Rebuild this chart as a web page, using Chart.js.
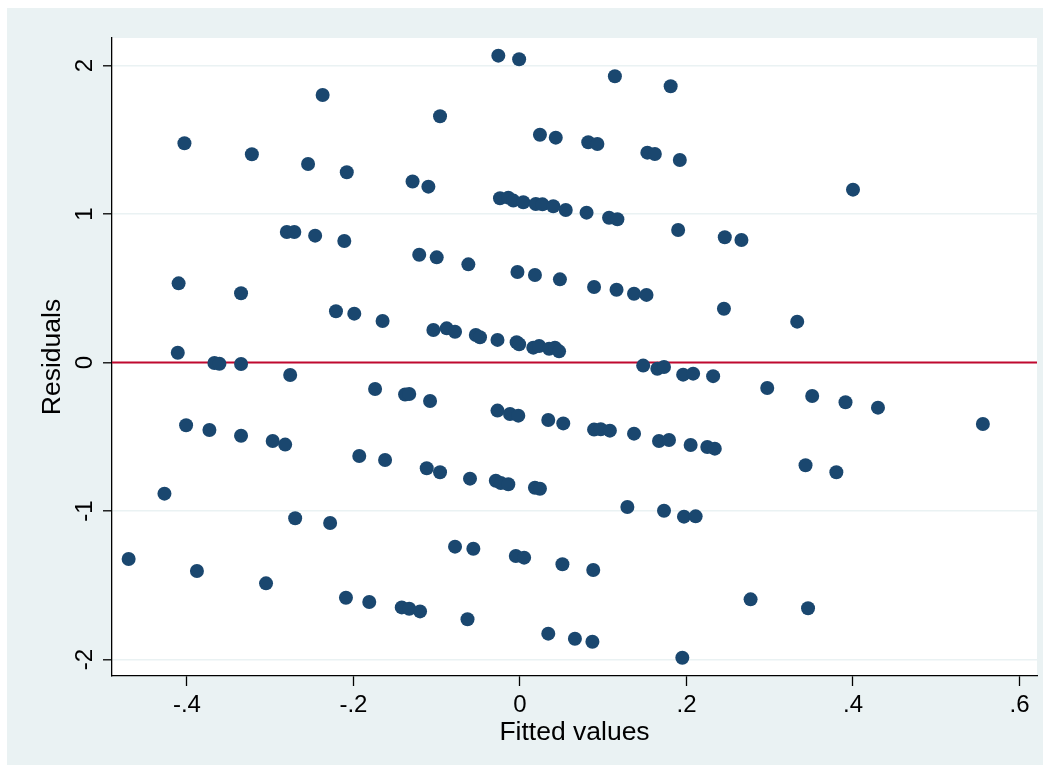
<!DOCTYPE html>
<html>
<head>
<meta charset="utf-8">
<title>Residuals vs fitted values</title>
<script src="https://cdn.jsdelivr.net/npm/chart.js@4.4.1/dist/chart.umd.min.js"></script>
<style>
  html, body { margin: 0; padding: 0; background: #fff; }
  canvas { display: block; }
</style>
</head>
<body>
<canvas id="myChart" width="1049" height="772"></canvas>
<script>
// fitted values (x) and residuals (y)
var fittedValues = [
    -0.237, -0.403, -0.322, -0.2545, -0.208, -0.129, -0.280, -0.271, -0.246, -0.211,
    -0.026, -0.001, 0.114, 0.181, -0.096, 0.024, 0.043, 0.082, 0.093, 0.153,
    0.162, 0.192, -0.110, -0.024, -0.014, -0.008, 0.004, 0.019, 0.027, 0.040,
    0.055, 0.080, 0.107, 0.117, 0.190, 0.400, 0.246, 0.266, -0.121, -0.100,
    -0.062, -0.003, 0.018, 0.048, 0.089, 0.116, 0.137, 0.152, 0.245, 0.333,
    -0.410, -0.335, -0.221, -0.199, -0.165, -0.104, -0.088, -0.078, -0.053, -0.048,
    -0.027, -0.004, -0.001, 0.016, 0.023, 0.035, 0.042, 0.047, -0.411, -0.367,
    -0.361, -0.335, -0.276, -0.174, -0.138, -0.133, -0.108, 0.148, 0.165, 0.173,
    0.196, 0.208, 0.232, 0.297, 0.351, 0.391, 0.430, 0.556, -0.401, -0.373,
    -0.335, -0.297, -0.282, -0.027, -0.012, -0.002, 0.034, 0.052, 0.089, 0.097,
    0.108, 0.137, 0.167, 0.179, 0.205, 0.225, 0.234, -0.193, -0.162, -0.112,
    -0.096, -0.060, -0.029, -0.023, -0.014, 0.018, 0.024, 0.343, 0.380, -0.427,
    -0.270, -0.228, 0.129, 0.173, 0.197, 0.211, -0.078, -0.056, -0.005, 0.005,
    0.051, 0.088, -0.470, -0.388, -0.305, -0.209, -0.181, -0.142, -0.133, -0.120,
    -0.063, 0.034, 0.066, 0.087, 0.195, 0.277, 0.346
];
var residuals = [
    1.801, 1.476, 1.402, 1.337, 1.281, 1.219, 0.879, 0.879, 0.854, 0.818,
    2.066, 2.042, 1.927, 1.860, 1.658, 1.534, 1.514, 1.483, 1.471, 1.413,
    1.404, 1.364, 1.184, 1.106, 1.110, 1.090, 1.079, 1.067, 1.065, 1.052,
    1.027, 1.009, 0.975, 0.965, 0.892, 1.164, 0.843, 0.825, 0.726, 0.708,
    0.661, 0.609, 0.589, 0.560, 0.508, 0.490, 0.463, 0.455, 0.362, 0.275,
    0.533, 0.466, 0.345, 0.329, 0.279, 0.219, 0.230, 0.207, 0.185, 0.170,
    0.152, 0.136, 0.123, 0.100, 0.111, 0.093, 0.100, 0.075, 0.066, -0.003,
    -0.008, -0.010, -0.084, -0.178, -0.216, -0.212, -0.259, -0.021, -0.042, -0.030,
    -0.082, -0.075, -0.092, -0.172, -0.226, -0.268, -0.304, -0.414, -0.423, -0.455,
    -0.493, -0.529, -0.553, -0.324, -0.347, -0.358, -0.387, -0.410, -0.452, -0.450,
    -0.459, -0.479, -0.529, -0.522, -0.556, -0.569, -0.580, -0.630, -0.657, -0.712,
    -0.739, -0.782, -0.796, -0.811, -0.820, -0.843, -0.850, -0.692, -0.739, -0.883,
    -1.049, -1.081, -0.973, -0.998, -1.038, -1.036, -1.240, -1.254, -1.303, -1.314,
    -1.359, -1.397, -1.323, -1.404, -1.487, -1.584, -1.613, -1.649, -1.658, -1.676,
    -1.729, -1.826, -1.860, -1.880, -1.988, -1.595, -1.655
];

var xTicks = [-0.4, -0.2, 0, 0.2, 0.4, 0.6];
var xTickLabels = ['-.4', '-.2', '0', '.2', '.4', '.6'];
var yTicks = [-2, -1, 0, 1, 2];
var yTickLabels = ['-2', '-1', '0', '1', '2'];
var xRange = [-0.49, 0.621];
var yRange = [-2.111, 2.185];
var refLineY = 0;

var FONT = '"Liberation Sans", Arial, Helvetica, sans-serif';
Chart.defaults.font.family = FONT;
Chart.defaults.color = '#000';

var points = fittedValues.map(function (x, i) {
    return { x: x, y: residuals[i] };
});

// grey frame + white plot region
var background = {
    id: 'background',
    beforeDraw: function (chart) {
        var c = chart.ctx, a = chart.chartArea;
        c.save();
        c.fillStyle = '#ffffff';
        c.fillRect(0, 0, chart.width, chart.height);
        c.fillStyle = '#eaf2f3';
        c.fillRect(7, 8, 1036, 757);
        c.fillStyle = '#ffffff';
        c.fillRect(a.left, a.top, a.right - a.left, a.bottom - a.top);
        c.restore();
    }
};

// Stata style vertical labels on the y axis
var yLabels = {
    id: 'yLabels',
    afterDraw: function (chart) {
        var c = chart.ctx, s = chart.scales.y;
        c.save();
        c.font = '24px ' + FONT;
        c.fillStyle = '#000';
        c.textAlign = 'center';
        c.textBaseline = 'alphabetic';
        yTicks.forEach(function (v, i) {
            c.save();
            c.translate(92, s.getPixelForValue(v));
            c.rotate(-Math.PI / 2);
            c.fillText(yTickLabels[i], 0, 0);
            c.restore();
        });
        c.restore();
    }
};

var ctx = document.getElementById('myChart');
var myChart = new Chart(ctx, {
    type: 'scatter',
    data: {
        datasets: [{
            data: points,
            backgroundColor: '#1a476f',
            borderWidth: 0,
            pointRadius: 7,
            pointHoverRadius: 7,
            order: 0
        }, {
            type: 'line',
            data: [{ x: xRange[0], y: refLineY }, { x: xRange[1], y: refLineY }],
            borderColor: '#c0082f',
            borderWidth: 2.2,
            pointRadius: 0,
            fill: false,
            order: 1
        }]
    },
    options: {
        responsive: false,
        animation: false,
        layout: { padding: { left: 0, right: 12, top: 38, bottom: 0 } },
        plugins: {
            legend: { display: false },
            tooltip: { enabled: false }
        },
        scales: {
            x: {
                type: 'linear',
                min: xRange[0],
                max: xRange[1],
                afterBuildTicks: function (scale) {
                    scale.ticks = xTicks.map(function (v) { return { value: v }; });
                },
                afterFit: function (scale) { scale.height = 96; },
                ticks: {
                    autoSkip: false,
                    maxRotation: 0,
                    padding: 5,
                    font: { size: 24 },
                    color: '#000',
                    callback: function (v) {
                        var i = xTicks.indexOf(v);
                        return i >= 0 ? xTickLabels[i] : '';
                    }
                },
                grid: {
                    drawOnChartArea: false,
                    tickLength: 10,
                    tickColor: '#000',
                    tickWidth: 1.3
                },
                border: { color: '#000', width: 1.3 },
                title: {
                    display: true,
                    text: 'Fitted values',
                    font: { size: 26.5 },
                    color: '#000',
                    padding: { top: 0, bottom: 23 }
                }
            },
            y: {
                type: 'linear',
                min: yRange[0],
                max: yRange[1],
                afterBuildTicks: function (scale) {
                    scale.ticks = yTicks.map(function (v) { return { value: v }; });
                },
                afterFit: function (scale) { scale.width = 112; },
                ticks: { display: false },
                grid: {
                    color: '#eaf2f3',
                    lineWidth: 1.6,
                    tickLength: 9,
                    tickColor: '#000',
                    tickWidth: 1.3
                },
                border: { color: '#000', width: 1.3 },
                title: {
                    display: true,
                    text: 'Residuals',
                    font: { size: 26.5 },
                    color: '#000',
                    padding: { top: 37, bottom: 0 }
                }
            }
        }
    },
    plugins: [background, yLabels]
});
</script>
</body>
</html>
